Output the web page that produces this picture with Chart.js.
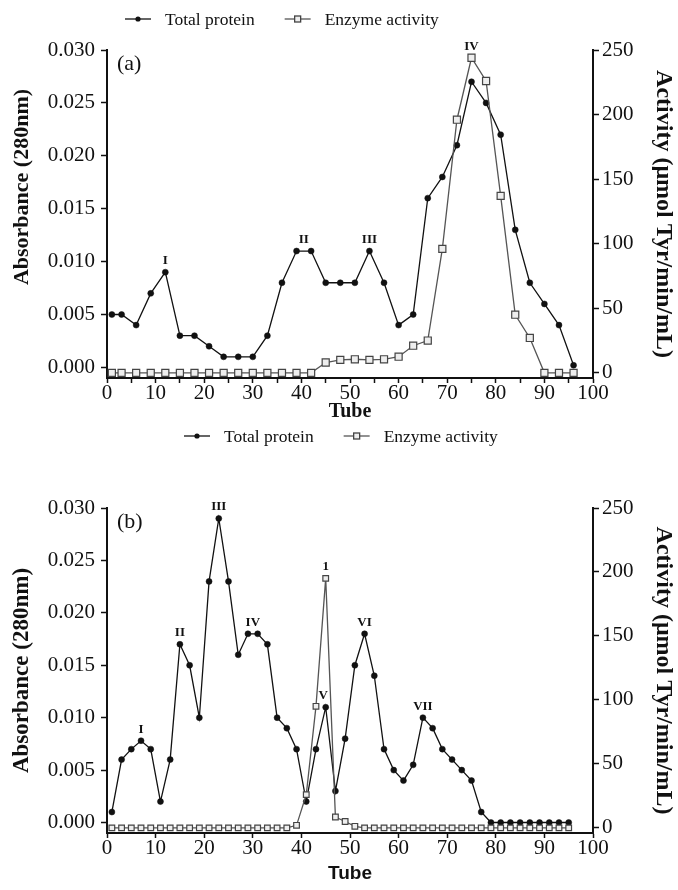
<!DOCTYPE html>
<html>
<head>
<meta charset="utf-8">
<script src="https://cdn.jsdelivr.net/npm/chart.js@4.4.1/dist/chart.umd.min.js"></script>
<style>
  html, body { margin: 0; padding: 0; background: #fff; }
  #wrap { position: relative; width: 678px; height: 890px; }
  canvas { position: absolute; left: 0; }
  #chartA { top: 0; }
  #chartB { top: 423px; }
</style>
</head>
<body>
<div id="wrap">
  <canvas id="chartA" width="678" height="423"></canvas>
  <canvas id="chartB" width="678" height="467"></canvas>
</div>
<script>
// ---- panel (a) ----
const tubesA = [1, 3, 6, 9, 12, 15, 18, 21, 24, 27, 30, 33, 36, 39, 42, 45, 48, 51, 54, 57, 60, 63, 66, 69, 72, 75, 78, 81, 84, 87, 90, 93, 96];
const proteinA = [0.005, 0.005, 0.004, 0.007, 0.009, 0.003, 0.003, 0.002, 0.001, 0.001, 0.001, 0.003, 0.008, 0.011, 0.011, 0.008, 0.008, 0.008, 0.011, 0.008, 0.004, 0.005, 0.016, 0.018, 0.021, 0.027, 0.025, 0.022, 0.013, 0.008, 0.006, 0.004, 0.0002];
const enzymeA = [0, 0, 0, 0, 0, 0, 0, 0, 0, 0, 0, 0, 0, 0, 0, 8, 10, 10.5, 10, 10.5, 12.5, 21, 25, 96, 196, 244, 226, 137, 45, 27, 0, 0, 0];
const peaksA = [
  { text: 'I', tube: 12, value: 0.009, axis: 'y' },
  { text: 'II', tube: 40.5, value: 0.011, axis: 'y' },
  { text: 'III', tube: 54, value: 0.011, axis: 'y' },
  { text: 'IV', tube: 75, value: 244, axis: 'y1' }
];

// ---- panel (b) ----
const tubesB = [1, 3, 5, 7, 9, 11, 13, 15, 17, 19, 21, 23, 25, 27, 29, 31, 33, 35, 37, 39, 41, 43, 45, 47, 49, 51, 53, 55, 57, 59, 61, 63, 65, 67, 69, 71, 73, 75, 77, 79, 81, 83, 85, 87, 89, 91, 93, 95];
const proteinB = [0.001, 0.006, 0.007, 0.0078, 0.007, 0.002, 0.006, 0.017, 0.015, 0.010, 0.023, 0.029, 0.023, 0.016, 0.018, 0.018, 0.017, 0.010, 0.009, 0.007, 0.002, 0.007, 0.011, 0.003, 0.008, 0.015, 0.018, 0.014, 0.007, 0.005, 0.004, 0.0055, 0.010, 0.009, 0.007, 0.006, 0.005, 0.004, 0.001, 0, 0, 0, 0, 0, 0, 0, 0, 0];
const enzymeB = [0, 0, 0, 0, 0, 0, 0, 0, 0, 0, 0, 0, 0, 0, 0, 0, 0, 0, 0, 2, 26, 95, 195, 8.5, 5, 1.2, 0, 0, 0, 0, 0, 0, 0, 0, 0, 0, 0, 0, 0, 0, 0, 0, 0, 0, 0, 0, 0, 0];
const peaksB = [
  { text: 'I', tube: 7, value: 0.0078, axis: 'y' },
  { text: 'II', tube: 15, value: 0.017, axis: 'y' },
  { text: 'III', tube: 23, value: 0.029, axis: 'y' },
  { text: 'IV', tube: 30, value: 0.018, axis: 'y' },
  { text: '1', tube: 45, value: 195, axis: 'y1' },
  { text: 'V', tube: 44.5, value: 0.011, axis: 'y' },
  { text: 'VI', tube: 53, value: 0.018, axis: 'y' },
  { text: 'VII', tube: 65, value: 0.010, axis: 'y' }
];

// ---- axes ----
const absTicks = [0, 0.005, 0.010, 0.015, 0.020, 0.025, 0.030];
const actTicks = [0, 50, 100, 150, 200, 250];
const seriesNames = ['Total protein', 'Enzyme activity'];

const SERIF = '"Liberation Serif", "Times New Roman", serif';
const SANS = '"Liberation Sans", Arial, sans-serif';

function legendPlugin(y, xStart) {
  return {
    id: 'legendDraw',
    afterDraw(chart) {
      const ctx = chart.ctx;
      ctx.save();
      ctx.font = '17.5px ' + SERIF;
      ctx.textBaseline = 'middle';
      ctx.fillStyle = '#111';
      let x = xStart;
      seriesNames.forEach((name, i) => {
        ctx.strokeStyle = i === 0 ? '#111' : '#555';
        ctx.lineWidth = 1.3;
        ctx.beginPath();
        ctx.moveTo(x, y);
        ctx.lineTo(x + 26, y);
        ctx.stroke();
        if (i === 0) {
          ctx.beginPath();
          ctx.arc(x + 13, y, 2.6, 0, Math.PI * 2);
          ctx.fill();
        } else {
          ctx.fillStyle = '#eee';
          ctx.fillRect(x + 10, y - 3, 6, 6);
          ctx.strokeStyle = '#444';
          ctx.strokeRect(x + 10, y - 3, 6, 6);
          ctx.fillStyle = '#111';
        }
        ctx.fillText(name, x + 40, y + 1);
        x += 40 + ctx.measureText(name).width + 30;
      });
      ctx.restore();
    }
  };
}

function peakPlugin(items) {
  return {
    id: 'peakLabels',
    afterDatasetsDraw(chart) {
      const { ctx, scales } = chart;
      ctx.save();
      ctx.font = 'bold 13px ' + SERIF;
      ctx.fillStyle = '#111';
      ctx.textAlign = 'center';
      ctx.textBaseline = 'bottom';
      items.forEach(p => {
        const x = scales.x.getPixelForValue(p.tube);
        const y = scales[p.axis].getPixelForValue(p.value);
        ctx.fillText(p.text, x, y - 5);
      });
      ctx.restore();
    }
  };
}

function sideTitles(panelTag, leftShift, leftSize) {
  return {
    id: 'sideTitles',
    afterDraw(chart) {
      const { ctx, chartArea } = chart;
      const mid = (chartArea.top + chartArea.bottom) / 2;
      ctx.save();
      ctx.fillStyle = '#111';
      ctx.textAlign = 'center';
      ctx.textBaseline = 'middle';
      // left title
      ctx.save();
      ctx.translate(22, mid + leftShift);
      ctx.rotate(-Math.PI / 2);
      ctx.font = 'bold ' + leftSize + 'px ' + SERIF;
      ctx.fillText('Absorbance (280nm)', 0, 0);
      ctx.restore();
      // right title
      ctx.save();
      ctx.translate(663, mid);
      ctx.rotate(Math.PI / 2);
      ctx.font = 'bold 24px ' + SERIF;
      ctx.fillText('Activity (μmol Tyr/min/mL)', 0, 0);
      ctx.restore();
      // panel tag
      ctx.font = '22px ' + SERIF;
      ctx.textAlign = 'left';
      ctx.fillText(panelTag, chartArea.left + 10, chartArea.top + 14);
      ctx.restore();
    }
  };
}

function makeChart(id, o) {
  const protein = o.tubes.map((t, i) => ({ x: t, y: o.protein[i] }));
  const enzyme = o.tubes.map((t, i) => ({ x: t, y: o.enzyme[i] }));
  const tickGrid = { drawOnChartArea: false, drawTicks: true, tickLength: 6, tickColor: '#111', tickWidth: 1.5 };
  const xGrid = Object.assign({}, tickGrid, { tickLength: 5 });
  const border = { display: true, color: '#111', width: 2 };
  const tickFont = { family: SERIF, size: 21, lineHeight: 1 };
  return new Chart(document.getElementById(id), {
    type: 'line',
    data: {
      datasets: [
        {
          label: seriesNames[1], data: enzyme, yAxisID: 'y1',
          borderColor: '#555', borderWidth: 1.3, tension: 0,
          pointStyle: 'rect', pointRadius: o.squareR, pointBackgroundColor: '#eee',
          pointBorderColor: '#444', pointBorderWidth: 1.2, clip: false
        },
        {
          label: seriesNames[0], data: protein, yAxisID: 'y',
          borderColor: '#111', borderWidth: 1.3, tension: 0,
          pointStyle: 'circle', pointRadius: 3, pointBackgroundColor: '#111',
          pointBorderColor: '#111', pointBorderWidth: 0.5, clip: false
        }
      ]
    },
    options: {
      responsive: false,
      animation: false,
      devicePixelRatio: 1,
      layout: { padding: { top: o.padTop, left: 0, right: 0, bottom: 0 } },
      plugins: { legend: { display: false }, tooltip: { enabled: false } },
      scales: {
        x: {
          type: 'linear', min: 0, max: 100,
          grid: xGrid, border: border,
          afterFit: s => { s.height = o.xHeight; },
          ticks: {
            stepSize: o.xStep, autoSkip: false, maxRotation: 0, padding: 0,
            color: '#111', font: tickFont,
            callback: v => (v % 10 === 0 ? v : '')
          },
          title: { display: true, text: 'Tube', color: '#111', font: o.tubeFont, padding: { top: 0, bottom: o.tubePad } }
        },
        y: {
          position: 'left', min: -0.001, max: 0.030,
          grid: tickGrid, border: border,
          afterFit: s => { s.width = 107; },
          afterBuildTicks: s => { s.ticks = absTicks.map(v => ({ value: v })); },
          ticks: { padding: 6, color: '#111', font: tickFont, callback: v => v.toFixed(3) }
        },
        y1: {
          position: 'right', min: -4, max: 250,
          grid: tickGrid, border: border,
          afterFit: s => { s.width = 85; },
          afterBuildTicks: s => { s.ticks = actTicks.map(v => ({ value: v })); },
          ticks: { padding: 3, color: '#111', font: tickFont }
        }
      }
    },
    plugins: [legendPlugin(o.legendY, o.legendX), peakPlugin(o.peaks), sideTitles(o.tag, o.leftShift, o.leftSize)]
  });
}

makeChart('chartA', {
  tubes: tubesA, protein: proteinA, enzyme: enzymeA, peaks: peaksA,
  padTop: 50, xHeight: 45, xStep: 5, squareR: 5, tag: '(a)', leftShift: -27, leftSize: 22,
  legendY: 19, legendX: 125,
  tubeFont: { family: SERIF, size: 20, weight: 'bold', lineHeight: 1 }, tubePad: 1
});

makeChart('chartB', {
  tubes: tubesB, protein: proteinB, enzyme: enzymeB, peaks: peaksB,
  padTop: 85, xHeight: 57, xStep: 10, squareR: 4, tag: '(b)', leftShift: 0, leftSize: 23,
  legendY: 13, legendX: 184,
  tubeFont: { family: SANS, size: 19, weight: 'bold' }, tubePad: 5
});
</script>
</body>
</html>
